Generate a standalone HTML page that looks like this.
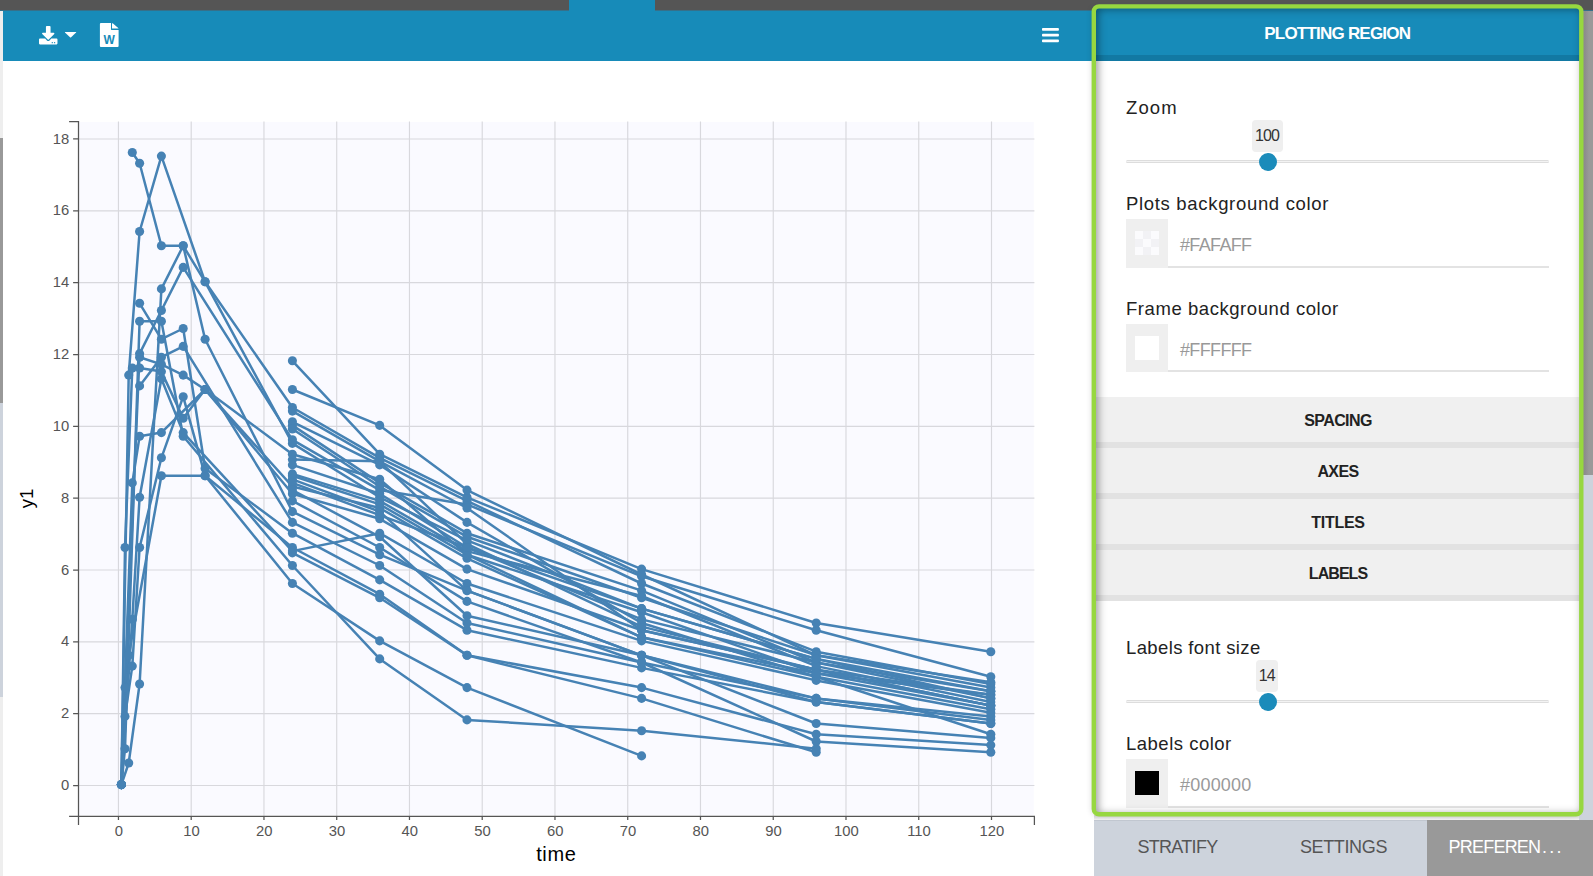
<!DOCTYPE html>
<html lang="en">
<head>
<meta charset="utf-8">
<title>Plot preferences</title>
<style>
  html, body { margin: 0; padding: 0; }
  body {
    width: 1593px; height: 876px; overflow: hidden; position: relative;
    background: #fff; font-family: "Liberation Sans", sans-serif; color: #222;
  }
  .abs { position: absolute; }
  /* ---------- window chrome ---------- */
  #topbar   { left: 0; top: 0; width: 1593px; height: 10px; background: #555; }
  #topblend { left: 0; top: 10px; width: 1593px; height: 1px; background: #36708A; }
  #toptab   { left: 569px; top: 0; width: 86px; height: 12px; background: #178BB9; }
  #lstrip   { left: 0; top: 11px; width: 3px; height: 865px; background: #EEE; }
  #lthumb   { left: 0; top: 138px; width: 3px; height: 265px; background: #999; }
  #ltrack   { left: 0; top: 403px; width: 3px; height: 294px; background: #CDD3DC; }
  #toolbar  { left: 3px; top: 11px; width: 1090px; height: 49.6px; background: #178BB9; }
  /* ---------- right column ---------- */
  #rscroll  { left: 1579px; top: 11px; width: 14px; height: 865px; background: #CDD3DC; }
  #rthumb   { left: 1579px; top: 11px; width: 14px; height: 464px;
              background: linear-gradient(90deg, #888 0, #8d8d8d 6px, #999 10px); }
  #understrip { left: 1094px; top: 815px; width: 485px; height: 5px; background: linear-gradient(#D4D4D6 0, #DCDCDE 30%, #F3F3F4 100%); }
  #tabs     { left: 1094px; top: 820px; width: 499px; height: 56px; background: #CDD3DC; box-shadow: inset 0 1px 0 #C2C8D1; }
  .tab      { top: 0; height: 56px; line-height: 55px; font-size: 18px; color: #555;
              letter-spacing: -0.85px; white-space: nowrap; }
  #tab3     { left: 333px; width: 166px; background: #999; color: #fff; }
  /* green highlighted frame */
  #frame {
    left: 1095px; top: 7px; width: 486px; height: 807px;
    border-radius: 5px; background: #fff; overflow: hidden;
    box-shadow: -3px 1px 6px rgba(0,0,0,.16);
  }
  #frameshadow {
    left: 1px; top: 1px; right: 1.5px; bottom: 1.5px; border-radius: 3px; pointer-events: none;
    box-shadow: inset 2px 1px 8px rgba(0,0,0,.42);
  }
  #phead { left: 0; top: 0; width: 100%; height: 48px; background: #178BB9;
           border-bottom: 6px solid #1279A3; }
  #phead span { position: absolute; left: 0; right: 0; top: 17.6px; text-align: center;
           color: #fff; font-weight: bold; font-size: 17px; letter-spacing: -0.78px; text-indent: -1.5px; line-height: 18px; }
  .lbl   { left: 31px; font-size: 18.5px; letter-spacing: 0.68px; line-height: 22px; color: #222; white-space: nowrap; }
  .track { left: 31px; width: 423px; height: 1px; background: #F3F3F3;
           border-top: 1px solid #DDD; border-bottom: 1px solid #DDD; border-radius: 2px; }
  .thumb { width: 18px; height: 18px; border-radius: 50%; background: #1A8BBA; }
  .bubble{ height: 31.6px; border-radius: 4px; background: #EFEFEF; text-align: center;
           font-size: 16px; letter-spacing: -0.85px; line-height: 32px; color: #333; text-indent: -0.8px; }
  .swbox { left: 31px; width: 42px; height: 48.4px; background: #EFEFEF; }
  .sw    { left: 9px; top: 11.8px; width: 24px; height: 24px; }
  .inp   { left: 73px; width: 381px; height: 46.4px; border-bottom: 2px solid #E3E3E3; }
  .inp span { position: absolute; left: 12px; top: 14.6px; font-size: 18px; letter-spacing: -0.65px;
           line-height: 22px; color: #999; }
  .acc   { left: 0; width: 100%; height: 45px; background: #F0F0F0; border-bottom: 6px solid #E2E2E2;
           text-align: center; }
  .acc span { position: relative; top: 15px; font-weight: bold; font-size: 16px; letter-spacing: -0.6px;
           line-height: 18px; color: #222; }
</style>
</head>
<body>

<!-- window chrome -->
<div id="topbar" class="abs"></div>
<div id="topblend" class="abs"></div>
<div id="lstrip" class="abs"></div>
<div id="lthumb" class="abs"></div>
<div id="ltrack" class="abs"></div>
<div id="toolbar" class="abs"></div>
<div id="toptab" class="abs"></div>

<!-- toolbar icons -->
<svg class="abs" style="left:0;top:0" width="1091" height="62" viewBox="0 0 1091 62">
  <!-- download (tray + arrow) -->
  <g transform="translate(39,25.9) scale(0.0361)" fill="#fff">
    <path d="M216 0h80c13.3 0 24 10.7 24 24v168h87.7c17.8 0 26.7 21.5 14.1 34.1L269.7 378.3c-7.5 7.5-19.8 7.5-27.3 0L90.1 226.1c-12.6-12.6-3.7-34.1 14.1-34.1H192V24c0-13.3 10.7-24 24-24zm296 376v112c0 13.3-10.7 24-24 24H24c-13.3 0-24-10.7-24-24V376c0-13.3 10.7-24 24-24h146.7l49 49c20.1 20.1 52.5 20.1 72.6 0l49-49H488c13.3 0 24 10.7 24 24zm-124 88c0-11-9-20-20-20s-20 9-20 20 9 20 20 20 20-9 20-20zm64 0c0-11-9-20-20-20s-20 9-20 20 9 20 20 20 20-9 20-20z"/>
  </g>
  <!-- caret -->
  <path d="M65.2 32 H75.9 Q76.6 32 76.1 32.6 L71.1 37.3 Q70.55 37.8 70 37.3 L65 32.6 Q64.5 32 65.2 32Z" fill="#fff"/>
  <!-- word document -->
  <g fill="#fff">
    <path d="M99.9 24.1 Q99.9 23.1 100.9 23.1 H111 V29.2 Q111 30.1 111.9 30.1 H118.6 V45.9 Q118.6 46.9 117.6 46.9 H100.9 Q99.9 46.9 99.9 45.9 Z"/>
    <path d="M112 23.2 h0.2 q0.4 0 0.8 0.35 l5.2 4.4 q0.3 0.3 0.3 0.65 h-6.5 Z"/>
  </g>
  <text x="109.25" y="43.75" text-anchor="middle" font-family="Liberation Sans, sans-serif" font-weight="bold" font-size="12" fill="#178BB9">W</text>
  <!-- hamburger -->
  <g fill="#fff">
    <rect x="1042" y="28.1" width="16.9" height="2.75" rx="0.8"/>
    <rect x="1042" y="33.8" width="16.9" height="2.75" rx="0.8"/>
    <rect x="1042" y="39.5" width="16.9" height="2.75" rx="0.8"/>
  </g>
</svg>

<!-- chart -->
<div class="abs" style="left:0;top:0;width:1091px;height:876px;">
<svg id="chart" width="1091" height="876" viewBox="0 0 1091 876">
<rect x="79" y="122" width="954.7" height="693.2" fill="#FAFAFF"/>
<path d="M118.45 121.5V816.4M191.2 121.5V816.4M263.96 121.5V816.4M336.71 121.5V816.4M409.47 121.5V816.4M482.22 121.5V816.4M554.97 121.5V816.4M627.73 121.5V816.4M700.48 121.5V816.4M773.24 121.5V816.4M845.99 121.5V816.4M918.74 121.5V816.4M991.5 121.5V816.4M78.5 785.5H1034.4M78.5 713.67H1034.4M78.5 641.83H1034.4M78.5 570.0H1034.4M78.5 498.16H1034.4M78.5 426.33H1034.4M78.5 354.5H1034.4M78.5 282.66H1034.4M78.5 210.83H1034.4M78.5 138.99H1034.4" stroke="#D8D8DD" stroke-width="1.15" fill="none"/>
<path d="M121.4 784.6L125.0 716.4L132.3 666.1L139.6 547.5L161.4 457.8L183.2 396.7L205.1 475.7L292.4 583.5L379.7 640.9L467.0 687.6L641.6 755.9" stroke="#4682B4" stroke-width="2.5" fill="none" stroke-linejoin="round"/>
<path d="M121.4 784.6L132.3 482.9L139.6 436.2L161.4 432.6L205.1 389.5L292.4 486.5L379.7 508.0L467.0 558.3L641.6 637.3L816.2 676.8L990.8 734.3" stroke="#4682B4" stroke-width="2.5" fill="none" stroke-linejoin="round"/>
<path d="M121.4 784.6L125.0 687.6L139.6 353.6L161.4 310.5L183.2 267.4L292.4 439.8L379.7 490.1L467.0 504.4L641.6 576.3L816.2 630.2L990.8 676.8" stroke="#4682B4" stroke-width="2.5" fill="none" stroke-linejoin="round"/>
<path d="M132.3 152.5L139.6 163.2L161.4 245.8L183.2 245.8L205.1 281.8L292.4 407.5L379.7 457.8L467.0 500.9L641.6 583.5L816.2 651.7L990.8 684.0" stroke="#4682B4" stroke-width="2.5" fill="none" stroke-linejoin="round"/>
<path d="M121.4 784.6L128.7 375.1L139.6 231.5L161.4 156.1L205.1 281.8L292.4 443.4L379.7 497.3L467.0 540.4L641.6 608.6L816.2 658.9L990.8 691.2" stroke="#4682B4" stroke-width="2.5" fill="none" stroke-linejoin="round"/>
<path d="M121.4 784.6L128.7 763.0L139.6 684.0L161.4 288.9L183.2 245.8L205.1 339.2L292.4 511.6L379.7 554.7L467.0 590.6L641.6 655.3L816.2 698.4L990.8 719.9" stroke="#4682B4" stroke-width="2.5" fill="none" stroke-linejoin="round"/>
<path d="M121.4 784.6L125.0 547.5L132.3 368.0L139.6 368.0L161.4 371.6L183.2 418.2L205.1 389.5L292.4 493.7L379.7 518.8L467.0 569.1L641.6 630.2L816.2 669.7L990.8 705.6" stroke="#4682B4" stroke-width="2.5" fill="none" stroke-linejoin="round"/>
<path d="M121.4 784.6L128.7 655.3L161.4 475.7L205.1 475.7L292.4 547.5L379.7 594.2L467.0 655.3L641.6 687.6L816.2 734.3L990.8 745.1" stroke="#4682B4" stroke-width="2.5" fill="none" stroke-linejoin="round"/>
<path d="M139.6 303.3L161.4 339.2L183.2 328.5L205.1 468.5L292.4 533.2L379.7 579.9L467.0 630.2L641.6 667.9L816.2 702.0L990.8 723.5" stroke="#4682B4" stroke-width="2.5" fill="none" stroke-linejoin="round"/>
<path d="M121.4 784.6L125.0 748.7L139.6 321.3L161.4 321.3L183.2 436.2L292.4 565.5L379.7 658.9L467.0 719.9L641.6 730.7L816.2 748.7" stroke="#4682B4" stroke-width="2.5" fill="none" stroke-linejoin="round"/>
<path d="M139.6 385.9L161.4 357.2L183.2 346.4L292.4 522.4L379.7 565.5L467.0 623.0L641.6 662.5L816.2 698.4L990.8 716.4" stroke="#4682B4" stroke-width="2.5" fill="none" stroke-linejoin="round"/>
<path d="M139.6 357.2L161.4 364.4L183.2 375.1L205.1 389.5L292.4 454.2L379.7 479.3L467.0 554.7L641.6 612.2L816.2 673.3L990.8 694.8" stroke="#4682B4" stroke-width="2.5" fill="none" stroke-linejoin="round"/>
<path d="M121.4 784.6L132.3 619.4L139.6 497.3L161.4 378.7L183.2 432.6L292.4 551.1L379.7 533.2L467.0 583.5L641.6 640.9L816.2 680.4L990.8 712.8" stroke="#4682B4" stroke-width="2.5" fill="none" stroke-linejoin="round"/>
<path d="M292.4 360.8L379.7 454.2L467.0 497.3L641.6 569.1L816.2 623.0L990.8 651.7" stroke="#4682B4" stroke-width="2.5" fill="none" stroke-linejoin="round"/>
<path d="M292.4 389.5L379.7 425.4L467.0 490.1L641.6 574.5L816.2 655.3L990.8 687.6" stroke="#4682B4" stroke-width="2.5" fill="none" stroke-linejoin="round"/>
<path d="M292.4 411.1L379.7 461.3L467.0 508.0L641.6 630.2L816.2 669.7L990.8 705.6" stroke="#4682B4" stroke-width="2.5" fill="none" stroke-linejoin="round"/>
<path d="M292.4 421.8L379.7 464.9L467.0 522.4L641.6 623.0L816.2 676.8L990.8 709.2" stroke="#4682B4" stroke-width="2.5" fill="none" stroke-linejoin="round"/>
<path d="M292.4 425.4L379.7 482.9L467.0 533.2L641.6 590.6L816.2 662.5L990.8 698.4" stroke="#4682B4" stroke-width="2.5" fill="none" stroke-linejoin="round"/>
<path d="M292.4 429.0L379.7 486.5L467.0 536.8L641.6 597.8L816.2 655.3L990.8 682.2" stroke="#4682B4" stroke-width="2.5" fill="none" stroke-linejoin="round"/>
<path d="M292.4 459.6L379.7 461.3L467.0 544.0L641.6 626.6L816.2 669.7L990.8 694.8" stroke="#4682B4" stroke-width="2.5" fill="none" stroke-linejoin="round"/>
<path d="M292.4 464.9L379.7 493.7L467.0 547.5L641.6 619.4L816.2 662.5L990.8 691.2" stroke="#4682B4" stroke-width="2.5" fill="none" stroke-linejoin="round"/>
<path d="M292.4 473.9L379.7 500.9L467.0 551.1L641.6 596.0L816.2 666.1L990.8 702.0" stroke="#4682B4" stroke-width="2.5" fill="none" stroke-linejoin="round"/>
<path d="M292.4 475.7L379.7 504.4L467.0 554.7L641.6 637.3L816.2 673.3L990.8 705.6" stroke="#4682B4" stroke-width="2.5" fill="none" stroke-linejoin="round"/>
<path d="M292.4 479.3L379.7 511.6L467.0 590.6L641.6 655.3L816.2 702.0L990.8 723.5" stroke="#4682B4" stroke-width="2.5" fill="none" stroke-linejoin="round"/>
<path d="M292.4 482.9L379.7 515.2L467.0 547.5L641.6 608.6L816.2 658.9L990.8 698.4" stroke="#4682B4" stroke-width="2.5" fill="none" stroke-linejoin="round"/>
<path d="M292.4 490.1L379.7 536.8L467.0 615.8L641.6 655.3L816.2 723.5L990.8 737.9" stroke="#4682B4" stroke-width="2.5" fill="none" stroke-linejoin="round"/>
<path d="M292.4 500.9L379.7 547.5L467.0 601.4L641.6 662.5L816.2 741.5L990.8 752.3" stroke="#4682B4" stroke-width="2.5" fill="none" stroke-linejoin="round"/>
<path d="M292.4 552.9L379.7 597.8L467.0 655.3L641.6 698.4L816.2 752.3" stroke="#4682B4" stroke-width="2.5" fill="none" stroke-linejoin="round"/>
<g fill="#4682B4"><circle cx="121.4" cy="784.6" r="4.55"/><circle cx="125.0" cy="716.4" r="4.55"/><circle cx="132.3" cy="666.1" r="4.55"/><circle cx="139.6" cy="547.5" r="4.55"/><circle cx="161.4" cy="457.8" r="4.55"/><circle cx="183.2" cy="396.7" r="4.55"/><circle cx="205.1" cy="475.7" r="4.55"/><circle cx="292.4" cy="583.5" r="4.55"/><circle cx="379.7" cy="640.9" r="4.55"/><circle cx="467.0" cy="687.6" r="4.55"/><circle cx="641.6" cy="755.9" r="4.55"/><circle cx="121.4" cy="784.6" r="4.55"/><circle cx="132.3" cy="482.9" r="4.55"/><circle cx="139.6" cy="436.2" r="4.55"/><circle cx="161.4" cy="432.6" r="4.55"/><circle cx="205.1" cy="389.5" r="4.55"/><circle cx="292.4" cy="486.5" r="4.55"/><circle cx="379.7" cy="508.0" r="4.55"/><circle cx="467.0" cy="558.3" r="4.55"/><circle cx="641.6" cy="637.3" r="4.55"/><circle cx="816.2" cy="676.8" r="4.55"/><circle cx="990.8" cy="734.3" r="4.55"/><circle cx="121.4" cy="784.6" r="4.55"/><circle cx="125.0" cy="687.6" r="4.55"/><circle cx="139.6" cy="353.6" r="4.55"/><circle cx="161.4" cy="310.5" r="4.55"/><circle cx="183.2" cy="267.4" r="4.55"/><circle cx="292.4" cy="439.8" r="4.55"/><circle cx="379.7" cy="490.1" r="4.55"/><circle cx="467.0" cy="504.4" r="4.55"/><circle cx="641.6" cy="576.3" r="4.55"/><circle cx="816.2" cy="630.2" r="4.55"/><circle cx="990.8" cy="676.8" r="4.55"/><circle cx="132.3" cy="152.5" r="4.55"/><circle cx="139.6" cy="163.2" r="4.55"/><circle cx="161.4" cy="245.8" r="4.55"/><circle cx="183.2" cy="245.8" r="4.55"/><circle cx="205.1" cy="281.8" r="4.55"/><circle cx="292.4" cy="407.5" r="4.55"/><circle cx="379.7" cy="457.8" r="4.55"/><circle cx="467.0" cy="500.9" r="4.55"/><circle cx="641.6" cy="583.5" r="4.55"/><circle cx="816.2" cy="651.7" r="4.55"/><circle cx="990.8" cy="684.0" r="4.55"/><circle cx="121.4" cy="784.6" r="4.55"/><circle cx="128.7" cy="375.1" r="4.55"/><circle cx="139.6" cy="231.5" r="4.55"/><circle cx="161.4" cy="156.1" r="4.55"/><circle cx="205.1" cy="281.8" r="4.55"/><circle cx="292.4" cy="443.4" r="4.55"/><circle cx="379.7" cy="497.3" r="4.55"/><circle cx="467.0" cy="540.4" r="4.55"/><circle cx="641.6" cy="608.6" r="4.55"/><circle cx="816.2" cy="658.9" r="4.55"/><circle cx="990.8" cy="691.2" r="4.55"/><circle cx="121.4" cy="784.6" r="4.55"/><circle cx="128.7" cy="763.0" r="4.55"/><circle cx="139.6" cy="684.0" r="4.55"/><circle cx="161.4" cy="288.9" r="4.55"/><circle cx="183.2" cy="245.8" r="4.55"/><circle cx="205.1" cy="339.2" r="4.55"/><circle cx="292.4" cy="511.6" r="4.55"/><circle cx="379.7" cy="554.7" r="4.55"/><circle cx="467.0" cy="590.6" r="4.55"/><circle cx="641.6" cy="655.3" r="4.55"/><circle cx="816.2" cy="698.4" r="4.55"/><circle cx="990.8" cy="719.9" r="4.55"/><circle cx="121.4" cy="784.6" r="4.55"/><circle cx="125.0" cy="547.5" r="4.55"/><circle cx="132.3" cy="368.0" r="4.55"/><circle cx="139.6" cy="368.0" r="4.55"/><circle cx="161.4" cy="371.6" r="4.55"/><circle cx="183.2" cy="418.2" r="4.55"/><circle cx="205.1" cy="389.5" r="4.55"/><circle cx="292.4" cy="493.7" r="4.55"/><circle cx="379.7" cy="518.8" r="4.55"/><circle cx="467.0" cy="569.1" r="4.55"/><circle cx="641.6" cy="630.2" r="4.55"/><circle cx="816.2" cy="669.7" r="4.55"/><circle cx="990.8" cy="705.6" r="4.55"/><circle cx="121.4" cy="784.6" r="4.55"/><circle cx="128.7" cy="655.3" r="4.55"/><circle cx="161.4" cy="475.7" r="4.55"/><circle cx="205.1" cy="475.7" r="4.55"/><circle cx="292.4" cy="547.5" r="4.55"/><circle cx="379.7" cy="594.2" r="4.55"/><circle cx="467.0" cy="655.3" r="4.55"/><circle cx="641.6" cy="687.6" r="4.55"/><circle cx="816.2" cy="734.3" r="4.55"/><circle cx="990.8" cy="745.1" r="4.55"/><circle cx="139.6" cy="303.3" r="4.55"/><circle cx="161.4" cy="339.2" r="4.55"/><circle cx="183.2" cy="328.5" r="4.55"/><circle cx="205.1" cy="468.5" r="4.55"/><circle cx="292.4" cy="533.2" r="4.55"/><circle cx="379.7" cy="579.9" r="4.55"/><circle cx="467.0" cy="630.2" r="4.55"/><circle cx="641.6" cy="667.9" r="4.55"/><circle cx="816.2" cy="702.0" r="4.55"/><circle cx="990.8" cy="723.5" r="4.55"/><circle cx="121.4" cy="784.6" r="4.55"/><circle cx="125.0" cy="748.7" r="4.55"/><circle cx="139.6" cy="321.3" r="4.55"/><circle cx="161.4" cy="321.3" r="4.55"/><circle cx="183.2" cy="436.2" r="4.55"/><circle cx="292.4" cy="565.5" r="4.55"/><circle cx="379.7" cy="658.9" r="4.55"/><circle cx="467.0" cy="719.9" r="4.55"/><circle cx="641.6" cy="730.7" r="4.55"/><circle cx="816.2" cy="748.7" r="4.55"/><circle cx="139.6" cy="385.9" r="4.55"/><circle cx="161.4" cy="357.2" r="4.55"/><circle cx="183.2" cy="346.4" r="4.55"/><circle cx="292.4" cy="522.4" r="4.55"/><circle cx="379.7" cy="565.5" r="4.55"/><circle cx="467.0" cy="623.0" r="4.55"/><circle cx="641.6" cy="662.5" r="4.55"/><circle cx="816.2" cy="698.4" r="4.55"/><circle cx="990.8" cy="716.4" r="4.55"/><circle cx="139.6" cy="357.2" r="4.55"/><circle cx="161.4" cy="364.4" r="4.55"/><circle cx="183.2" cy="375.1" r="4.55"/><circle cx="205.1" cy="389.5" r="4.55"/><circle cx="292.4" cy="454.2" r="4.55"/><circle cx="379.7" cy="479.3" r="4.55"/><circle cx="467.0" cy="554.7" r="4.55"/><circle cx="641.6" cy="612.2" r="4.55"/><circle cx="816.2" cy="673.3" r="4.55"/><circle cx="990.8" cy="694.8" r="4.55"/><circle cx="121.4" cy="784.6" r="4.55"/><circle cx="132.3" cy="619.4" r="4.55"/><circle cx="139.6" cy="497.3" r="4.55"/><circle cx="161.4" cy="378.7" r="4.55"/><circle cx="183.2" cy="432.6" r="4.55"/><circle cx="292.4" cy="551.1" r="4.55"/><circle cx="379.7" cy="533.2" r="4.55"/><circle cx="467.0" cy="583.5" r="4.55"/><circle cx="641.6" cy="640.9" r="4.55"/><circle cx="816.2" cy="680.4" r="4.55"/><circle cx="990.8" cy="712.8" r="4.55"/><circle cx="292.4" cy="360.8" r="4.55"/><circle cx="379.7" cy="454.2" r="4.55"/><circle cx="467.0" cy="497.3" r="4.55"/><circle cx="641.6" cy="569.1" r="4.55"/><circle cx="816.2" cy="623.0" r="4.55"/><circle cx="990.8" cy="651.7" r="4.55"/><circle cx="292.4" cy="389.5" r="4.55"/><circle cx="379.7" cy="425.4" r="4.55"/><circle cx="467.0" cy="490.1" r="4.55"/><circle cx="641.6" cy="574.5" r="4.55"/><circle cx="816.2" cy="655.3" r="4.55"/><circle cx="990.8" cy="687.6" r="4.55"/><circle cx="292.4" cy="411.1" r="4.55"/><circle cx="379.7" cy="461.3" r="4.55"/><circle cx="467.0" cy="508.0" r="4.55"/><circle cx="641.6" cy="630.2" r="4.55"/><circle cx="816.2" cy="669.7" r="4.55"/><circle cx="990.8" cy="705.6" r="4.55"/><circle cx="292.4" cy="421.8" r="4.55"/><circle cx="379.7" cy="464.9" r="4.55"/><circle cx="467.0" cy="522.4" r="4.55"/><circle cx="641.6" cy="623.0" r="4.55"/><circle cx="816.2" cy="676.8" r="4.55"/><circle cx="990.8" cy="709.2" r="4.55"/><circle cx="292.4" cy="425.4" r="4.55"/><circle cx="379.7" cy="482.9" r="4.55"/><circle cx="467.0" cy="533.2" r="4.55"/><circle cx="641.6" cy="590.6" r="4.55"/><circle cx="816.2" cy="662.5" r="4.55"/><circle cx="990.8" cy="698.4" r="4.55"/><circle cx="292.4" cy="429.0" r="4.55"/><circle cx="379.7" cy="486.5" r="4.55"/><circle cx="467.0" cy="536.8" r="4.55"/><circle cx="641.6" cy="597.8" r="4.55"/><circle cx="816.2" cy="655.3" r="4.55"/><circle cx="990.8" cy="682.2" r="4.55"/><circle cx="292.4" cy="459.6" r="4.55"/><circle cx="379.7" cy="461.3" r="4.55"/><circle cx="467.0" cy="544.0" r="4.55"/><circle cx="641.6" cy="626.6" r="4.55"/><circle cx="816.2" cy="669.7" r="4.55"/><circle cx="990.8" cy="694.8" r="4.55"/><circle cx="292.4" cy="464.9" r="4.55"/><circle cx="379.7" cy="493.7" r="4.55"/><circle cx="467.0" cy="547.5" r="4.55"/><circle cx="641.6" cy="619.4" r="4.55"/><circle cx="816.2" cy="662.5" r="4.55"/><circle cx="990.8" cy="691.2" r="4.55"/><circle cx="292.4" cy="473.9" r="4.55"/><circle cx="379.7" cy="500.9" r="4.55"/><circle cx="467.0" cy="551.1" r="4.55"/><circle cx="641.6" cy="596.0" r="4.55"/><circle cx="816.2" cy="666.1" r="4.55"/><circle cx="990.8" cy="702.0" r="4.55"/><circle cx="292.4" cy="475.7" r="4.55"/><circle cx="379.7" cy="504.4" r="4.55"/><circle cx="467.0" cy="554.7" r="4.55"/><circle cx="641.6" cy="637.3" r="4.55"/><circle cx="816.2" cy="673.3" r="4.55"/><circle cx="990.8" cy="705.6" r="4.55"/><circle cx="292.4" cy="479.3" r="4.55"/><circle cx="379.7" cy="511.6" r="4.55"/><circle cx="467.0" cy="590.6" r="4.55"/><circle cx="641.6" cy="655.3" r="4.55"/><circle cx="816.2" cy="702.0" r="4.55"/><circle cx="990.8" cy="723.5" r="4.55"/><circle cx="292.4" cy="482.9" r="4.55"/><circle cx="379.7" cy="515.2" r="4.55"/><circle cx="467.0" cy="547.5" r="4.55"/><circle cx="641.6" cy="608.6" r="4.55"/><circle cx="816.2" cy="658.9" r="4.55"/><circle cx="990.8" cy="698.4" r="4.55"/><circle cx="292.4" cy="490.1" r="4.55"/><circle cx="379.7" cy="536.8" r="4.55"/><circle cx="467.0" cy="615.8" r="4.55"/><circle cx="641.6" cy="655.3" r="4.55"/><circle cx="816.2" cy="723.5" r="4.55"/><circle cx="990.8" cy="737.9" r="4.55"/><circle cx="292.4" cy="500.9" r="4.55"/><circle cx="379.7" cy="547.5" r="4.55"/><circle cx="467.0" cy="601.4" r="4.55"/><circle cx="641.6" cy="662.5" r="4.55"/><circle cx="816.2" cy="741.5" r="4.55"/><circle cx="990.8" cy="752.3" r="4.55"/><circle cx="292.4" cy="552.9" r="4.55"/><circle cx="379.7" cy="597.8" r="4.55"/><circle cx="467.0" cy="655.3" r="4.55"/><circle cx="641.6" cy="698.4" r="4.55"/><circle cx="816.2" cy="752.3" r="4.55"/></g>
<path d="M69.1 121.5H78.5V816.4H69.1M78.5 824.9V816.4H1034.4V824.9M118.45 816.4v3.6M191.2 816.4v3.6M263.96 816.4v3.6M336.71 816.4v3.6M409.47 816.4v3.6M482.22 816.4v3.6M554.97 816.4v3.6M627.73 816.4v3.6M700.48 816.4v3.6M773.24 816.4v3.6M845.99 816.4v3.6M918.74 816.4v3.6M991.5 816.4v3.6M78.5 785.5h-5.4M78.5 713.67h-5.4M78.5 641.83h-5.4M78.5 570.0h-5.4M78.5 498.16h-5.4M78.5 426.33h-5.4M78.5 354.5h-5.4M78.5 282.66h-5.4M78.5 210.83h-5.4M78.5 138.99h-5.4" stroke="#555" stroke-width="1.25" fill="none"/>
<g font-family="Liberation Sans, sans-serif" font-size="14.8" fill="#555"><text x="118.8" y="835.8" text-anchor="middle">0</text><text x="191.5" y="835.8" text-anchor="middle">10</text><text x="264.3" y="835.8" text-anchor="middle">20</text><text x="337.0" y="835.8" text-anchor="middle">30</text><text x="409.8" y="835.8" text-anchor="middle">40</text><text x="482.5" y="835.8" text-anchor="middle">50</text><text x="555.3" y="835.8" text-anchor="middle">60</text><text x="628.0" y="835.8" text-anchor="middle">70</text><text x="700.8" y="835.8" text-anchor="middle">80</text><text x="773.5" y="835.8" text-anchor="middle">90</text><text x="846.3" y="835.8" text-anchor="middle">100</text><text x="919.0" y="835.8" text-anchor="middle">110</text><text x="991.8" y="835.8" text-anchor="middle">120</text><text x="69.3" y="790.0" text-anchor="end">0</text><text x="69.3" y="718.2" text-anchor="end">2</text><text x="69.3" y="646.3" text-anchor="end">4</text><text x="69.3" y="574.5" text-anchor="end">6</text><text x="69.3" y="502.7" text-anchor="end">8</text><text x="69.3" y="430.8" text-anchor="end">10</text><text x="69.3" y="359.0" text-anchor="end">12</text><text x="69.3" y="287.2" text-anchor="end">14</text><text x="69.3" y="215.3" text-anchor="end">16</text><text x="69.3" y="143.5" text-anchor="end">18</text></g>
<text x="556.3" y="861" text-anchor="middle" font-family="Liberation Sans, sans-serif" font-size="20" letter-spacing="0.6" fill="#000">time</text>
<text transform="translate(33,498.5) rotate(-90)" text-anchor="middle" font-family="Liberation Sans, sans-serif" font-size="18.5" fill="#000">y1</text>
</svg>
</div>

<!-- right column -->
<div id="rscroll" class="abs"></div>
<div id="rthumb" class="abs"></div>
<div id="understrip" class="abs"></div>
<div id="tabs" class="abs">
  <div class="tab abs" style="left:0;width:167px;text-align:center;letter-spacing:-0.7px;">STRATIFY</div>
  <div class="tab abs" style="left:166px;width:167px;text-align:center;letter-spacing:-0.36px;">SETTINGS</div>
  <div class="tab abs" id="tab3"><span style="position:absolute;left:21.6px;letter-spacing:-0.79px;">PREFEREN<span style="letter-spacing:2.2px;margin-left:1.8px;">...</span></span></div>
</div>

<div id="frame" class="abs">
  <div id="phead" class="abs"><span>PLOTTING REGION</span></div>

  <!-- section 1 -->
  <div class="lbl abs" style="top:90.4px;letter-spacing:1.1px;">Zoom</div>
  <div class="bubble abs" style="left:157px;top:113px;width:31px;">100</div>
  <div class="track abs" style="top:153px;"></div>
  <div class="thumb abs" style="left:163.7px;top:146px;"></div>

  <div class="lbl abs" style="top:186.3px;">Plots background color</div>
  <div class="swbox abs" style="top:212.2px;">
    <svg class="sw abs" width="24" height="24" viewBox="0 0 24 24">
      <rect width="24" height="24" fill="#FBFBFD"/>
      <path d="M8 0h8v8h-8zM0 8h8v8h-8zM16 8h8v8h-8zM8 16h8v8h-8z" fill="#F2F2F5"/>
    </svg>
  </div>
  <div class="inp abs" style="top:212.2px;"><span>#FAFAFF</span></div>

  <div class="lbl abs" style="top:291.2px;letter-spacing:0.56px;">Frame background color</div>
  <div class="swbox abs" style="top:317.1px;"><div class="sw abs" style="background:#fff;"></div></div>
  <div class="inp abs" style="top:317.1px;"><span>#FFFFFF</span></div>

  <!-- accordion headers -->
  <div class="acc abs" style="top:390px;"><span>SPACING</span></div>
  <div class="acc abs" style="top:441px;"><span>AXES</span></div>
  <div class="acc abs" style="top:492px;"><span style="letter-spacing:-0.28px;">TITLES</span></div>
  <div class="acc abs" style="top:543px;"><span style="letter-spacing:-0.95px;">LABELS</span></div>

  <!-- section 2 -->
  <div class="lbl abs" style="top:630.4px;letter-spacing:0.38px;">Labels font size</div>
  <div class="bubble abs" style="left:161.2px;top:653px;width:21.8px;">14</div>
  <div class="track abs" style="top:693px;"></div>
  <div class="thumb abs" style="left:163.7px;top:686px;"></div>

  <div class="lbl abs" style="top:726.3px;letter-spacing:0.5px;">Labels color</div>
  <div class="swbox abs" style="top:752.2px;"><div class="sw abs" style="background:#000;"></div></div>
  <div class="inp abs" style="top:752.2px;"><span style="letter-spacing:0.2px;">#000000</span></div>

  <div id="frameshadow" class="abs"></div>
</div>

<!-- green highlight border (anti-aliased, fractional coordinates) -->
<svg class="abs" style="left:1085px;top:0;pointer-events:none" width="508" height="825" viewBox="1085 0 508 825">
  <rect x="1093.8" y="6.4" width="487.5" height="807.9" rx="5.2" ry="5.2" fill="none" stroke="#97D740" stroke-width="4.4"/>
</svg>

</body>
</html>
